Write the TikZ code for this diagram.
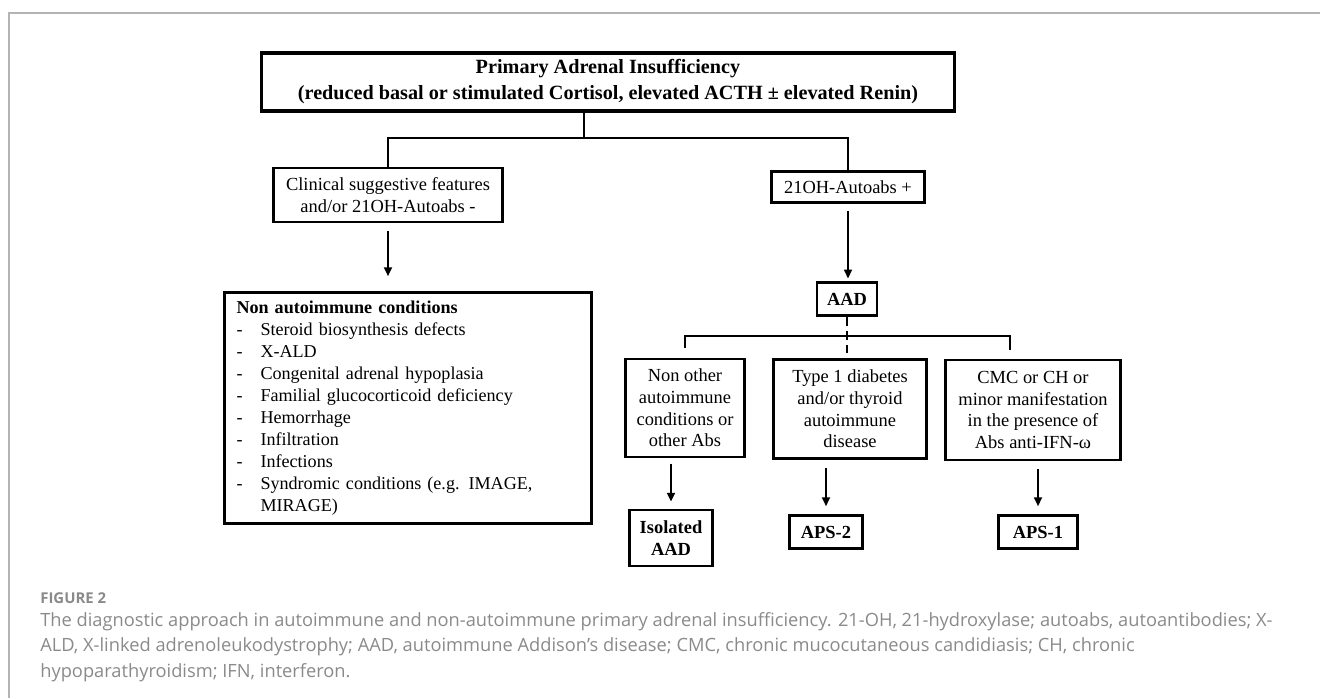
\documentclass[tikz,border=0pt]{standalone}
\usepackage{fontspec}
\setmainfont{Liberation Serif}
\newfontfamily\capfont{Open Sans}
\usetikzlibrary{arrows.meta}
\definecolor{capgray}{HTML}{8A8A8A}
\definecolor{framegray}{HTML}{B4B4B4}
\tikzset{
  box/.style={draw, line width=1.6pt, align=center, inner sep=2pt,
    font=\fontsize{10.5}{12.3}\selectfont},
  bbox/.style={box, font=\fontsize{10.5}{12.3}\selectfont\bfseries},
  link/.style={line width=1.1pt},
  arr/.style={link, -{Triangle[length=5pt,width=4.5pt]}},
}
\newcommand{\itm}{\makebox[0.48cm][l]{-}}
\begin{document}
\begin{tikzpicture}[x=0.02cm, y=-0.02cm]
\useasboundingbox (0,0) rectangle (1320,698);
\draw[framegray, line width=0.6pt] (9,698) -- (9,13) -- (1320,13);

% boxes
\node[box, line width=2pt, minimum width=13.86cm, minimum height=1.16cm,
  font=\fontsize{11.5}{14.8}\selectfont\bfseries] (pai) at (608,82)
  {Primary Adrenal Insufficiency\\(reduced basal or stimulated Cortisol, elevated ACTH ± elevated Renin)};
\node[box, minimum width=4.58cm, minimum height=1.08cm] (clin) at (388,195)
  {Clinical suggestive features\\and/or 21OH-Autoabs -};
\node[box, minimum width=3.06cm, minimum height=0.62cm] (auto) at (848,187)
  {21OH-Autoabs +};
\node[box, align=left, text width=6.86cm, inner xsep=0.24cm, minimum height=4.62cm,
  font=\fontsize{10.3}{12.5}\selectfont] (nonai) at (408,408)
  {\textbf{Non autoimmune conditions}\\
   \itm Steroid biosynthesis defects\\
   \itm X-ALD\\
   \itm Congenital adrenal hypoplasia\\
   \itm Familial glucocorticoid deficiency\\
   \itm Hemorrhage\\
   \itm Infiltration\\
   \itm Infections\\
   \itm Syndromic conditions (e.g. IMAGE,\\
   \hspace*{0.48cm}MIRAGE)};
\node[bbox, minimum width=1.2cm, minimum height=0.66cm] (aad) at (847,299) {AAD};
\node[box, minimum width=2.38cm, minimum height=1.96cm] (nonother) at (685,408)
  {Non other\\autoimmune\\conditions or\\other Abs};
\node[box, minimum width=3.06cm, minimum height=1.98cm] (type1) at (850,409)
  {Type 1 diabetes\\and/or thyroid\\autoimmune\\disease};
\node[box, minimum width=3.5cm, minimum height=2cm] (cmc) at (1033,410)
  {CMC or CH or\\minor manifestation\\in the presence of\\Abs anti-IFN-ω};
\node[bbox, minimum width=1.66cm, minimum height=1.12cm] (iso) at (671,538)
  {Isolated\\AAD};
\node[bbox, minimum width=1.46cm, minimum height=0.66cm] (aps2) at (826,532) {APS-2};
\node[bbox, minimum width=1.58cm, minimum height=0.66cm] (aps1) at (1038,532) {APS-1};

% connectors
\coordinate (split) at (584,138);
\draw[link] (split |- pai.south) -- (split);
\draw[link] (clin.north) |- (split) -| (auto.north);
\draw[arr, shorten <=4.5pt, shorten >=8.5pt] (clin.south) -- (clin.south |- nonai.north);
\draw[arr, shorten <=4pt, shorten >=1.5pt] (auto.south) -- (auto.south |- aad.north);

\coordinate (fork) at (847,336);
\coordinate (midend) at (847,353);
\coordinate (leftend) at (685,348);
\coordinate (rightend) at (1010,350);
\draw[link, dash pattern=on 5pt off 3pt] (aad.south) -- (midend);
\draw[link] (leftend) |- (fork) -| (rightend);

\draw[arr, shorten <=3pt, shorten >=4pt] (nonother.south -| iso.north) -- (iso.north);
\draw[arr, shorten <=4.5pt, shorten >=4.5pt] (type1.south -| aps2.north) -- (aps2.north);
\draw[arr, shorten <=4.5pt, shorten >=4.5pt] (cmc.south -| aps1.north) -- (aps1.north);

% caption
\node[anchor=north west, inner sep=0, text=capgray,
  font=\capfont\fontsize{8.5}{10}\selectfont\bfseries] (fig) at (40,592) {FIGURE 2};
\node[anchor=north west, inner sep=0, align=left, text=capgray,
  font=\capfont\fontsize{10.4}{14.6}\selectfont] (cap) at (40,612)
  {The diagnostic approach in autoimmune and non-autoimmune primary adrenal insufficiency. 21-OH, 21-hydroxylase; autoabs, autoantibodies; X-\\
   ALD, X-linked adrenoleukodystrophy; AAD, autoimmune Addison’s disease; CMC, chronic mucocutaneous candidiasis; CH, chronic\\
   hypoparathyroidism; IFN, interferon.};
\end{tikzpicture}
\end{document}
